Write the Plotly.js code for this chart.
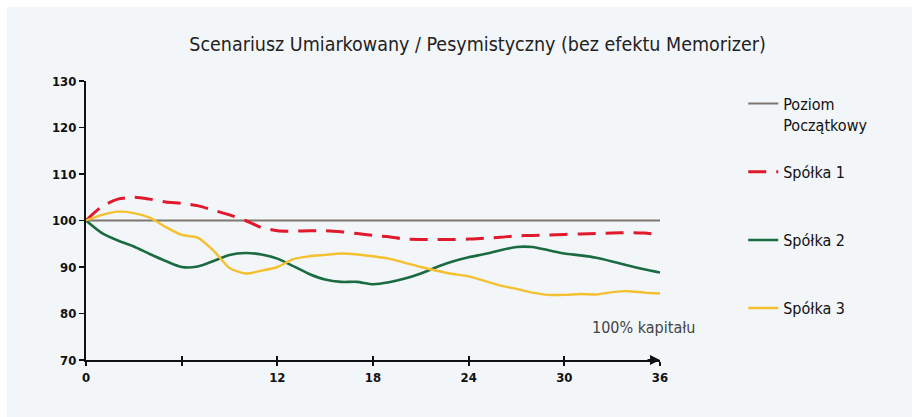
<!DOCTYPE html>
<html><head><meta charset="utf-8">
<script src="https://cdn.plot.ly/plotly-3.0.1.min.js"></script>
<style>
html,body{margin:0;padding:0;background:#ffffff;}
#chart{position:absolute;left:7px;top:7px;width:905px;height:410px;}
</style></head>
<body><div id="chart"></div>
<script>
const months = [0,1,2,3,4,5,6,7,8,9,10,11,12,13,14,15,16,17,18,19,20,21,22,23,24,25,26,27,28,29,30,31,32,33,34,35,36];
const baseX = [0, 36];
const baseY = [100, 100];
const spolka1 = [100,103.0,104.6,105.0,104.6,104.0,103.7,103.2,102.2,101.2,100.0,98.5,97.8,97.7,97.8,97.8,97.6,97.2,96.8,96.5,96.0,95.9,95.9,95.9,96.0,96.2,96.4,96.7,96.8,96.9,97.0,97.1,97.2,97.3,97.4,97.3,97.0];
const spolka2 = [100,97.3,95.7,94.4,92.8,91.3,90.0,90.1,91.3,92.6,93.0,92.7,91.8,90.2,88.5,87.3,86.8,86.8,86.3,86.7,87.5,88.6,90.0,91.2,92.1,92.8,93.6,94.3,94.3,93.6,92.9,92.5,92.0,91.2,90.3,89.5,88.8];
const spolka3 = [100,101.2,101.9,101.6,100.6,98.6,96.9,96.3,93.5,89.8,88.6,89.2,90.0,91.7,92.3,92.6,92.9,92.7,92.3,91.8,90.9,90.0,89.2,88.5,88.0,87.0,86.0,85.3,84.5,84.0,84.0,84.2,84.1,84.6,84.8,84.5,84.3];
const xTickVals = [0,6,12,18,24,30,36];
const xTickText = ['0','','12','18','24','30','36'];
const yTickVals = [70,80,90,100,110,120,130];

const names = ['Poziom<br>Początkowy','Spółka 1','Spółka 2','Spółka 3'];
const font = 'DejaVu Sans Condensed, DejaVu Sans, sans-serif';

const traces = [
  {x: baseX, y: baseY, name: names[0], legend:'legend', mode:'lines', line:{color:'#7d7770', width:2}},
  {x: months, y: spolka1, name: names[1], legend:'legend2', mode:'lines', line:{color:'#e0192d', width:3, dash:'18px,10px', shape:'spline', smoothing:0.7}},
  {x: months, y: spolka2, name: names[2], legend:'legend3', mode:'lines', line:{color:'#1b6b42', width:2.6, shape:'spline', smoothing:0.7}},
  {x: months, y: spolka3, name: names[3], legend:'legend4', mode:'lines', line:{color:'#f4c02f', width:2.4, shape:'spline', smoothing:0.7}},
  {x: [0], y: [70], xaxis:'x2', mode:'markers', marker:{opacity:0}, showlegend:false, hoverinfo:'skip'}
];

const legFont = {family:font, size:16, color:'#111'};
const legX = 1.145;
function leg(y, anchor){ return {x:legX, y:y, xanchor:'left', yanchor:anchor, font:legFont, bgcolor:'rgba(0,0,0,0)', valign:'top'}; }

const layout = {
  width: 905, height: 410,
  paper_bgcolor: '#f3f6f9', plot_bgcolor: '#f3f6f9',
  margin: {l:79, r:252, t:74, b:57},
  title: {text:'Scenariusz Umiarkowany / Pesymistyczny (bez efektu Memorizer)', font:{family:font, size:19.5, color:'#222'}, x:0.52, xanchor:'center', y:0.91, yanchor:'middle'},
  xaxis: {range:[0,36], tickvals:xTickVals, ticktext:xTickText, showgrid:false, zeroline:false, showline:true, linecolor:'#111', linewidth:2, ticks:'outside', ticklen:4, tickwidth:2, tickcolor:'#111', tickfont:{family:font, size:13, color:'#111', weight:'bold'}},
  xaxis2: {range:[0,36], overlaying:'x', tickvals:xTickVals, showticklabels:false, showgrid:false, zeroline:false, ticks:'inside', ticklen:4, tickwidth:2, tickcolor:'#111', side:'bottom', anchor:'y'},
  yaxis: {range:[70,130], tickvals:yTickVals, showgrid:false, zeroline:false, showline:true, linecolor:'#111', linewidth:2, ticks:'outside', ticklen:5, tickwidth:1.5, tickcolor:'#111', tickfont:{family:font, size:13, color:'#111', weight:'bold'}},
  legend: leg(0.98, 'top'),
  legend2: leg(0.674, 'middle'),
  legend3: leg(0.430, 'middle'),
  legend4: leg(0.186, 'middle'),
  showlegend: true,
  annotations: [
    {x:36, y:70, xref:'x', yref:'y', ax:-14, ay:0, axref:'pixel', ayref:'pixel', text:'', showarrow:true, arrowhead:2, arrowsize:1, arrowwidth:2, arrowcolor:'#111'},
    {x:34.95, y:77, xref:'x', yref:'y', text:'100% kapitału', showarrow:false, font:{family:font, size:16, color:'#444'}, xanchor:'center', yanchor:'middle'}
  ]
};
Plotly.newPlot('chart', traces, layout, {displayModeBar:false, staticPlot:true});
</script></body></html>
